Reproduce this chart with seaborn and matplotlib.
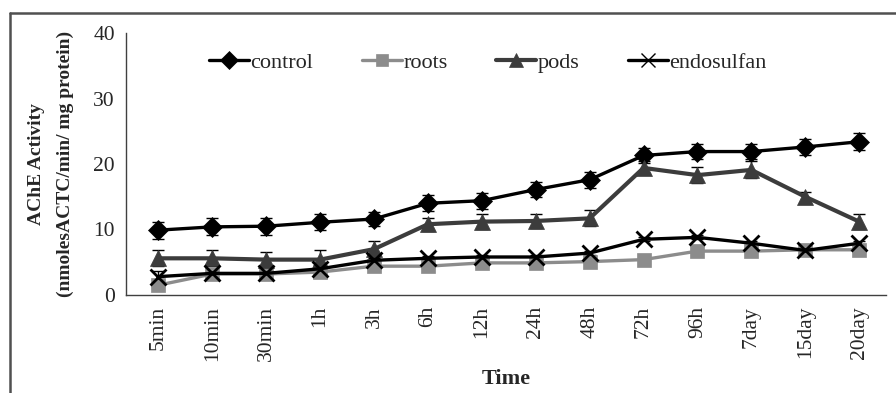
import matplotlib
matplotlib.use("Agg")
import matplotlib.pyplot as plt
import seaborn as sns
import pandas as pd
import numpy as np
from matplotlib.lines import Line2D

times = ["5min", "10min", "30min", "1h", "3h", "6h", "12h", "24h", "48h",
         "72h", "96h", "7day", "15day", "20day"]
control = [9.9, 10.4, 10.5, 11.1, 11.6, 14.0, 14.4, 16.1, 17.6, 21.3, 21.9, 21.9, 22.6, 23.4]
roots = [1.5, 3.2, 3.2, 3.5, 4.4, 4.4, 4.9, 4.9, 5.1, 5.4, 6.7, 6.7, 6.9, 6.9]
pods = [5.6, 5.6, 5.4, 5.4, 7.0, 10.8, 11.2, 11.3, 11.7, 19.4, 18.3, 19.1, 15.0, 11.2]
endosulfan = [2.8, 3.3, 3.3, 4.0, 5.3, 5.6, 5.8, 5.8, 6.4, 8.5, 8.8, 7.9, 6.8, 7.9]
control_err = [1.3, 1.3, 1.3, 1.2, 1.1, 1.2, 1.2, 1.2, 1.2, 1.1, 1.1, 1.1, 1.2, 1.3]
pods_err = [1.2, 1.2, 1.2, 1.4, 1.2, 1.0, 1.2, 1.1, 1.2, 1.0, 1.2, 1.3, 0.8, 1.1]
roots_err = [0.3, 0.3, 0.3, 0.3, 0.3, 0.3, 0.3, 0.3, 0.3, 0.3, 0.3, 0.3, 0.3, 0.3]
endo_err = [0.9, 0.3, 0.3, 0.3, 0.3, 0.3, 0.3, 0.3, 0.3, 0.3, 0.3, 0.3, 0.3, 0.3]

series = ["control", "roots", "pods", "endosulfan"]
values = [control, roots, pods, endosulfan]
errs = [control_err, roots_err, pods_err, endo_err]
colors = ["#000000", "#8c8c8c", "#3c3c3c", "#000000"]
markers = ["D", "s", "^", "x"]
msizes = [10, 10, 11, 11]
lws = [2.4, 2.4, 3.0, 2.4]

sns.set_style("white")
plt.rcParams["font.family"] = ["Liberation Serif", "DejaVu Serif"]

fig = plt.figure(figsize=(8.96, 3.93), dpi=100)
ax = fig.add_axes([0.1406, 0.2494, 0.8484, 0.6666])

handles = []
for name, vals, err, c, m, ms, lw in zip(series, values, errs, colors, markers, msizes, lws):
    df = pd.DataFrame({"Time": times, "val": vals})
    ax.errorbar(times, vals, yerr=err, fmt="none", ecolor="#000000",
                elinewidth=1.0, capsize=4, capthick=1.0, zorder=2)
    sns.lineplot(data=df, x="Time", y="val", ax=ax, color=c, marker=m,
                 markersize=ms, linewidth=lw, markeredgecolor=c,
                 markeredgewidth=2.0 if m == "x" else 0.5, sort=False, zorder=3)
    handles.append(Line2D([0], [0], color=c, marker=m, markersize=ms - 1,
                          linewidth=lw, markeredgecolor=c,
                          markeredgewidth=1.0 if m == "x" else 0.5))

ax.set_ylim(0, 40)
ax.set_yticks([0, 10, 20, 30, 40])
ax.set_xlim(-0.6, 13.5)
ax.tick_params(axis="y", labelsize=15.5, length=4, width=1, color="#404040", pad=4)
ax.tick_params(axis="x", labelsize=15.5, length=0, pad=8, rotation=90)
for s in ["top", "right"]:
    ax.spines[s].set_visible(False)
for s in ["left", "bottom"]:
    ax.spines[s].set_color("#404040")
    ax.spines[s].set_linewidth(1.0)

ax.set_xlabel("Time", fontsize=16, fontweight="bold", labelpad=6)
ax.set_ylabel("AChE Activity\n(nmolesACTC/min/ mg protein)", fontsize=14,
              fontweight="bold", labelpad=14, linespacing=1.85)

leg = ax.legend(handles, series, loc="center", bbox_to_anchor=(0.476, 0.887),
                ncol=4, frameon=False, fontsize=16, handlelength=1.8,
                handletextpad=0.05, columnspacing=2.2, numpoints=1,
                borderaxespad=0, borderpad=0)

# partial figure frame (top and left edges)
fy = 1 - 13 / 393
fx = 10 / 896
fig.add_artist(Line2D([fx, 1.0], [fy, fy], transform=fig.transFigure,
                      color="#505050", linewidth=1.8))
fig.add_artist(Line2D([fx, fx], [fy, 0.0], transform=fig.transFigure,
                      color="#505050", linewidth=1.8))

fig.savefig("out.png", dpi=100)
